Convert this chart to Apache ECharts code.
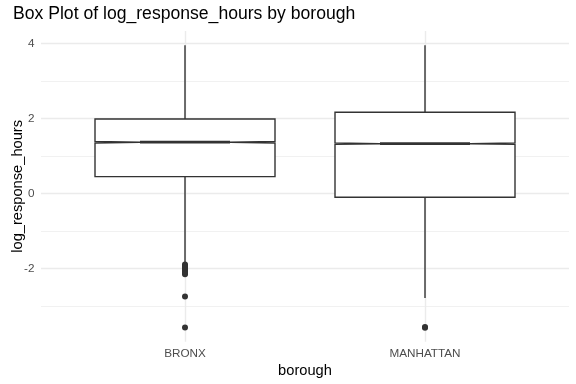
<!DOCTYPE html>
<html>
<head>
<meta charset="utf-8">
<script src="https://cdn.jsdelivr.net/npm/echarts@6/dist/echarts.min.js"></script>
<style>html,body{margin:0;padding:0;background:#fff}#c{width:576px;height:384px}</style>
</head>
<body>
<div id="c"></div>
<script>
// ---- data ----
const categories = ['BRONX', 'MANHATTAN'];
const lowWhisker = [-1.86, -2.79];
const q1 = [0.45, -0.10];
const medians = [1.37, 1.33];
const q3 = [1.99, 2.17];
const highWhisker = [3.96, 3.96];
const notchHalf = [0.02, 0.02];
const bronxOutliers = [-1.9, -1.93, -1.95, -1.97, -2.0, -2.02, -2.05, -2.08, -2.1, -2.13, -2.16, -2.75, -3.58];
const manhattanOutliers = [-3.57, -3.59];
const yMajor = [-2, 0, 2, 4];
const yMinor = [-3, -1, 1, 3];
const yLabelValues = [-2, 0, 2, 4];

// ---- build ----
const FONT = '"Liberation Sans", Arial, sans-serif';
const boxData = categories.map((c, i) => [i + 1, lowWhisker[i], q1[i], medians[i], q3[i], highWhisker[i], notchHalf[i]]);
const outlierData = [];
bronxOutliers.forEach(v => outlierData.push([1, v]));
manhattanOutliers.forEach(v => outlierData.push([2, v]));

const BOX_W = 0.75, NOTCH_W = 0.5, LINE = '#333333';

const gridMarks = [];
yMajor.forEach(v => gridMarks.push({ yAxis: v, lineStyle: { color: '#ebebeb', width: 1.4, type: 'solid' } }));
yMinor.forEach(v => gridMarks.push({ yAxis: v, lineStyle: { color: '#ebebeb', width: 0.7, type: 'solid' } }));
categories.forEach((c, i) => gridMarks.push({ xAxis: i + 1, lineStyle: { color: '#ebebeb', width: 1.4, type: 'solid' } }));

const chart = echarts.init(document.getElementById('c'), null, { renderer: 'canvas' });
chart.setOption({
  animation: false,
  backgroundColor: '#ffffff',
  title: {
    text: 'Box Plot of log_response_hours by borough',
    left: 13, top: 5, padding: 0,
    textStyle: { fontFamily: FONT, fontSize: 17.6, fontWeight: 'normal', color: '#000000' }
  },
  grid: { left: 41, right: 7, top: 31, bottom: 42.3, containLabel: false, outerBoundsMode: 'none' },
  xAxis: {
    type: 'value', min: 0.4, max: 2.6,
    name: 'borough', nameLocation: 'middle', nameGap: 22, nameMoveOverlap: false,
    nameTextStyle: { fontFamily: FONT, fontSize: 14.67, color: '#000000', verticalAlign: 'top' },
    axisLine: { show: false }, axisTick: { show: false }, splitLine: { show: false },
    axisLabel: {
      margin: 5.6, fontFamily: FONT, fontSize: 11.73, color: '#4d4d4d',
      formatter: v => {
        const r = Math.round(v);
        return (Math.abs(v - r) < 1e-6 && r >= 1 && r <= categories.length) ? categories[r - 1] : '';
      }
    }
  },
  yAxis: {
    type: 'value', min: -3.96, max: 4.34,
    name: 'log_response_hours', nameLocation: 'middle', nameGap: 16, nameRotate: 90, nameMoveOverlap: false,
    nameTextStyle: { fontFamily: FONT, fontSize: 14.67, color: '#000000' },
    axisLine: { show: false }, axisTick: { show: false }, splitLine: { show: false },
    axisLabel: {
      margin: 6.6, fontFamily: FONT, fontSize: 11.73, color: '#4d4d4d',
      formatter: v => {
        const r = Math.round(v);
        return (Math.abs(v - r) < 1e-6 && yLabelValues.indexOf(r) >= 0) ? String(r) : '';
      }
    }
  },
  series: [
    {
      type: 'line', data: [], z: 0, silent: true,
      markLine: { z: 0, silent: true, symbol: ['none', 'none'], label: { show: false }, animation: false, data: gridMarks }
    },
    {
      type: 'custom', z: 2, silent: true,
      data: boxData,
      encode: { x: 0, y: [1, 2, 3, 4, 5] },
      renderItem: (params, api) => {
        const x = api.value(0), lo = api.value(1), a = api.value(2), md = api.value(3), b = api.value(4), hi = api.value(5), nh = api.value(6);
        const hw = BOX_W / 2;
        const L = x - hw, R = x + hw, nL = x - hw * NOTCH_W, nR = x + hw * NOTCH_W;
        const p = (xx, yy) => api.coord([xx, yy]);
        const poly = [p(L, b), p(R, b), p(R, md + nh), p(nR, md), p(R, md - nh), p(R, a), p(L, a), p(L, md - nh), p(nL, md), p(L, md + nh)];
        const top = p(x, b), hiP = p(x, hi), bot = p(x, a), loP = p(x, lo);
        const m1 = p(nL, md), m2 = p(nR, md);
        return {
          type: 'group',
          children: [
            { type: 'line', shape: { x1: top[0], y1: top[1], x2: hiP[0], y2: hiP[1] }, style: { stroke: LINE, lineWidth: 1.4 } },
            { type: 'line', shape: { x1: bot[0], y1: bot[1], x2: loP[0], y2: loP[1] }, style: { stroke: LINE, lineWidth: 1.4 } },
            { type: 'polygon', shape: { points: poly }, style: { fill: '#ffffff', stroke: LINE, lineWidth: 1.4 } },
            { type: 'line', shape: { x1: m1[0], y1: m1[1], x2: m2[0], y2: m2[1] }, style: { stroke: LINE, lineWidth: 2.8 } }
          ]
        };
      }
    },
    {
      type: 'scatter', z: 3, silent: true,
      data: outlierData,
      symbol: 'circle', symbolSize: 6,
      itemStyle: { color: '#333333', opacity: 1 }
    }
  ]
});
</script>
</body>
</html>
